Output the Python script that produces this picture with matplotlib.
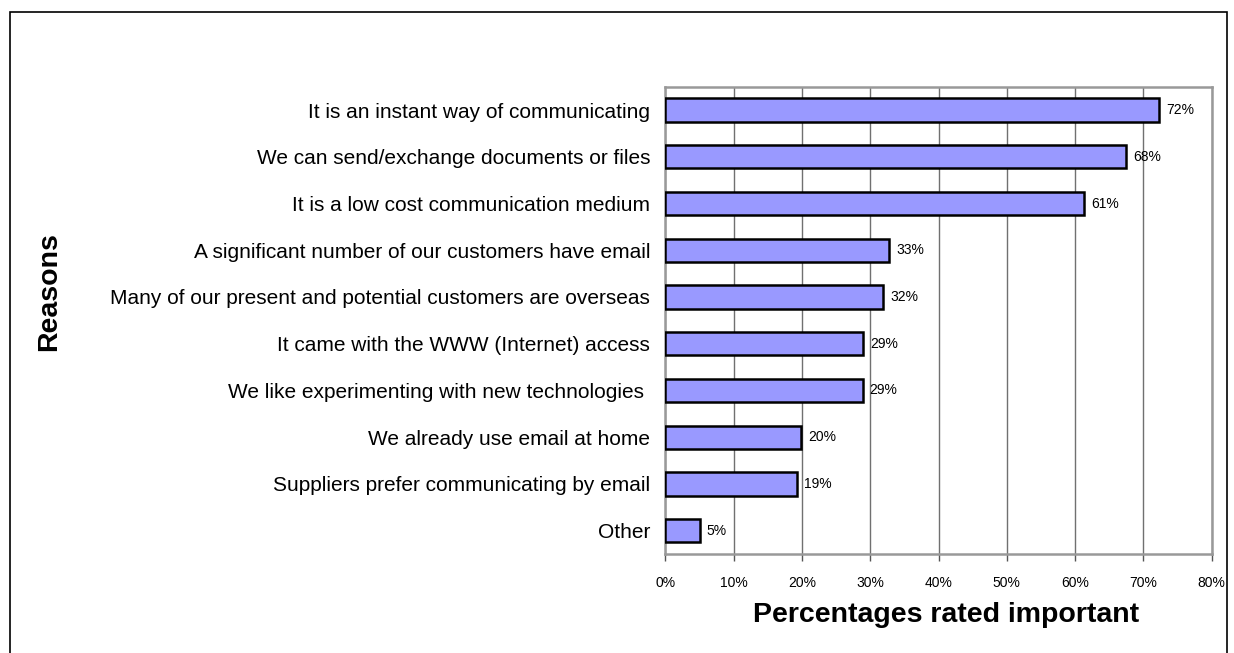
import matplotlib
matplotlib.use("Agg")
import matplotlib.pyplot as plt
from matplotlib.patches import Rectangle

# survey results: reasons for adopting email
reasons = [
    "It is an instant way of communicating",
    "We can send/exchange documents or files",
    "It is a low cost communication medium",
    "A significant number of our customers have email",
    "Many of our present and potential customers are overseas",
    "It came with the WWW (Internet) access",
    "We like experimenting with new technologies ",
    "We already use email at home",
    "Suppliers prefer communicating by email",
    "Other",
]
percent = [72.3, 67.5, 61.3, 32.8, 31.9, 29.0, 28.9, 19.9, 19.3, 5.0]
xticks = [0, 10, 20, 30, 40, 50, 60, 70, 80]

plt.rcParams['font.family'] = ['Liberation Sans', 'DejaVu Sans']

def main():
    fig = plt.figure(figsize=(12.34, 6.53), dpi=100)
    ax = fig.add_axes([0.5393, 0.1516, 0.4425, 0.7156])

    ypos = range(len(reasons))
    bars = ax.barh(ypos, percent, height=0.5, color='#9999ff',
                   edgecolor='black', linewidth=1.8, zorder=3)

    # value labels just right of each bar
    for bar, val in zip(bars, percent):
        ax.annotate('%.0f%%' % val,
                    xy=(bar.get_width(), bar.get_y() + bar.get_height() / 2),
                    xytext=(5, 0), textcoords='offset points',
                    ha='left', va='center', fontsize=10, zorder=4)

    ax.set_xlim(0, 80)
    ax.set_ylim(len(reasons) - 0.5, -0.5)
    ax.set_xticks(xticks)
    ax.set_xticklabels(['%d%%' % t for t in xticks], fontsize=10)
    ax.set_yticks(list(ypos))
    ax.set_yticklabels(reasons, fontsize=15)

    ax.tick_params(axis='y', length=0, pad=11)
    ax.tick_params(axis='x', length=5, width=1, color='#555555',
                   direction='out', pad=11)
    ax.grid(axis='x', color='#707070', linewidth=1, zorder=1)
    for spine in ax.spines.values():
        spine.set_color('#999999')
        spine.set_linewidth(1.8)

    fig.text(0.0397, 0.553, 'Reasons', rotation=90, ha='center', va='center',
             fontsize=20.5, fontweight='bold')
    fig.text(0.767, 0.058, 'Percentages rated important', ha='center',
             va='center', fontsize=20.5, fontweight='bold')

    # outer chart border (runs off the bottom edge)
    fig.patches.append(Rectangle((10 / 1234, -0.05), 1217 / 1234, 0.9816 + 0.05,
                                 transform=fig.transFigure, fill=False,
                                 edgecolor='black', linewidth=1.2))

    fig.savefig('out.png', dpi=100, facecolor='white')

if __name__ == '__main__':
    main()
